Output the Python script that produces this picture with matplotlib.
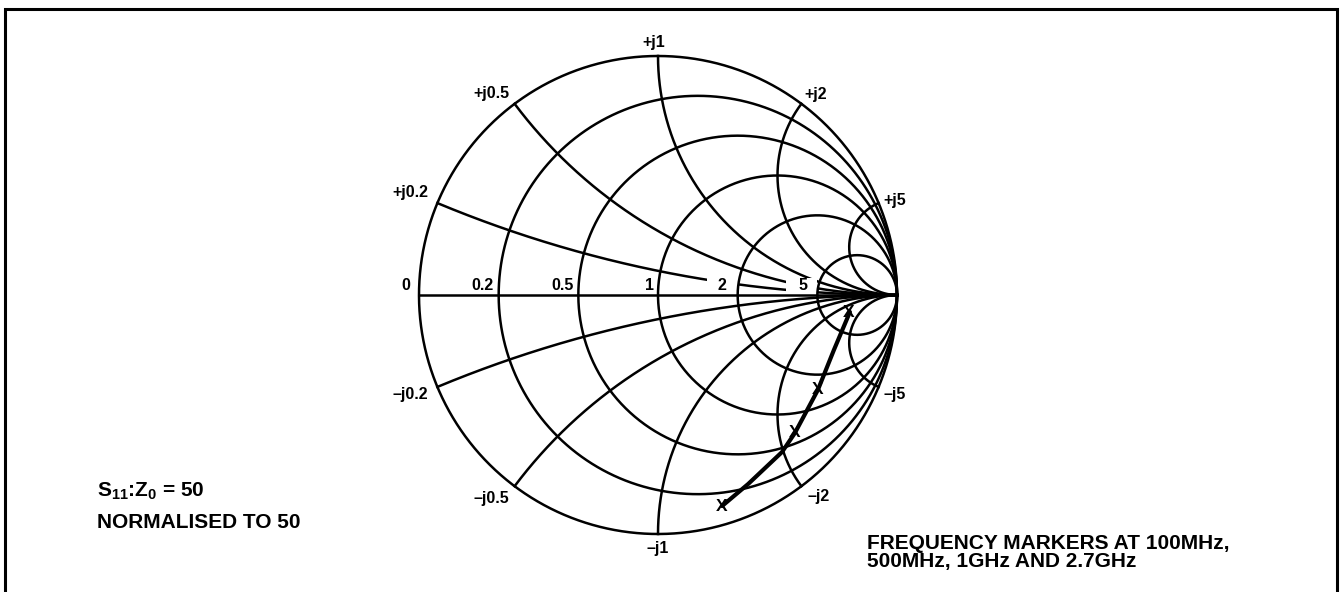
import numpy as np
import matplotlib
matplotlib.use("Agg")
import matplotlib.pyplot as plt
from matplotlib.patches import Rectangle

plt.rcParams['font.family'] = ['Liberation Sans', 'DejaVu Sans']
plt.rcParams['font.weight'] = 'bold'
plt.rcParams['mathtext.fontset'] = 'custom'
plt.rcParams['mathtext.rm'] = 'Liberation Sans:bold'
plt.rcParams['mathtext.bf'] = 'Liberation Sans:bold'
plt.rcParams['mathtext.default'] = 'rm'

# smith chart grid values
resistances = [0.2, 0.5, 1, 2, 5]
reactances = [0.2, 0.5, 1, 2, 5]
r_labels = ['0', '0.2', '0.5', '1', '2', '5']

# measured S11 trace (reflection coefficient, real / imag)
s11_re = [0.268, 0.377, 0.519, 0.573, 0.669, 0.736, 0.803]
s11_im = [-0.883, -0.791, -0.657, -0.577, -0.397, -0.230, -0.071]
# frequency markers: 100MHz, 500MHz, 1GHz, 2.7GHz
mark_re = [0.799, 0.669, 0.573, 0.268]
mark_im = [-0.075, -0.397, -0.577, -0.883]

W, H = 1342, 592
cx, cy, R = 658, 295, 239   # chart centre / radius in pixels

fig = plt.figure(figsize=(W / 100, H / 100), dpi=100)
ax = fig.add_axes([0, 0, 1, 1])
ax.set_xlim(-cx / R, (W - cx) / R)
ax.set_ylim(-(H - cy) / R, cy / R)
ax.axis('off')

lw = 1.8
t = np.linspace(0, 2 * np.pi, 800)

# outer circle r=0 and constant resistance circles (drawn over label boxes)
ax.plot(np.cos(t), np.sin(t), color='black', lw=lw, zorder=3)
for r in resistances:
    c = r / (1 + r)
    rad = 1 / (1 + r)
    ax.plot(c + rad * np.cos(t), rad * np.sin(t), color='black', lw=lw, zorder=3)

# constant reactance arcs
rr = np.concatenate([[0], np.logspace(-3, 5, 1500)])
for x in reactances:
    for s in (1, -1):
        z = rr + 1j * s * x
        g = (z - 1) / (z + 1)
        ax.plot(g.real, g.imag, color='black', lw=lw, zorder=1)

# white boxes behind the real-axis labels, then the axis line
for r in resistances:
    gx = (r - 1) / (r + 1)
    ax.add_patch(Rectangle((gx - 31 / R, 1.5 / R), 31 / R, 15.5 / R,
                           facecolor='white', edgecolor='none', zorder=2))
ax.plot([-1, 1], [0, 0], color='black', lw=lw, zorder=3)

fs = 11.5
# real axis labels
for r, lab in zip([0] + resistances, r_labels):
    gx = (r - 1) / (r + 1)
    dx = {'0': -13, '1': -8, '5': -14}.get(lab, -16)
    ax.annotate(lab, (gx, 0), xytext=(dx, 10), textcoords='offset pixels',
                ha='center', va='center', fontsize=fs, fontweight='bold', zorder=4)

# reactance labels
offs = {0.2: (-27, 11), 0.5: (-23, 10), 1: (-4, 13), 2: (14, 9), 5: (16, 3)}
offs_neg = {0.2: (-27, -8), 0.5: (-23, -12), 1: (0, -14), 2: (17, -10), 5: (16, -8)}
for x in reactances:
    for s, o, sign in ((1, offs, '+'), (-1, offs_neg, '\u2013')):
        g = (1j * s * x - 1) / (1j * s * x + 1)
        lab = sign + 'j' + ('%g' % x)
        ax.annotate(lab, (g.real, g.imag), xytext=o[x], textcoords='offset pixels',
                    ha='center', va='center', fontsize=fs, fontweight='bold', zorder=4)

# S11 trace with frequency markers
ax.plot(s11_re, s11_im, color='black', lw=3.0, zorder=5,
        solid_capstyle='round', solid_joinstyle='round')
for mx, my in zip(mark_re, mark_im):
    ax.text(mx, my, 'X', ha='center', va='center', fontsize=12.5,
            fontweight='bold', zorder=6)

# notes
def ftext(px, py, s, size):
    fig.text(px / W, 1 - py / H, s, ha='left', va='baseline',
             fontsize=size, fontweight='bold')

ftext(97, 497, 'S$_{11}$:Z$_0$ = 50', 15)
ftext(97, 528, 'NORMALISED TO 50', 15)
ftext(867, 549, 'FREQUENCY MARKERS AT 100MHz,', 15)
ftext(867, 567, '500MHz, 1GHz AND 2.7GHz', 15)

# frame
fig.add_artist(Rectangle((5 / W, -0.05), (1337 - 5) / W, 1.05 - 9 / H,
                         transform=fig.transFigure, fill=False,
                         edgecolor='black', lw=2.2))

fig.savefig('out.png', dpi=100)
